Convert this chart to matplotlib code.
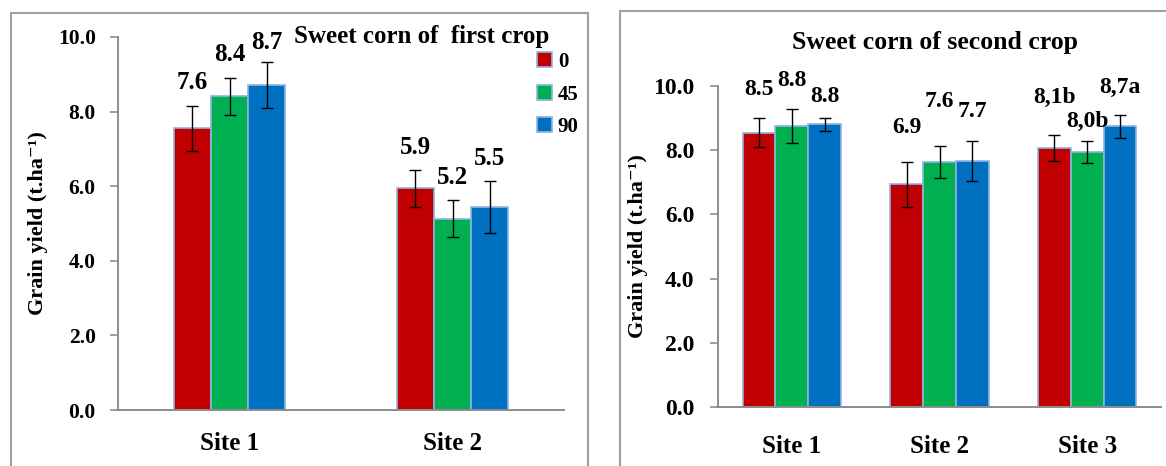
import numpy as np
import matplotlib
matplotlib.use('Agg')
import matplotlib.pyplot as plt
from matplotlib.patches import Rectangle

plt.rcParams['font.family'] = ['Liberation Serif', 'DejaVu Serif']
plt.rcParams['font.weight'] = 'bold'

# datos
rates = ['0', '45', '90']
colors = ['#C00000', '#00B050', '#0070C0']

sites_first = ['Site 1', 'Site 2']
first_0 = [7.55, 5.94]
first_45 = [8.41, 5.13]
first_90 = [8.71, 5.44]
first_err_0 = [0.60, 0.50]
first_err_45 = [0.49, 0.50]
first_err_90 = [0.62, 0.70]
first_lab_0 = ['7.6', '5.9']
first_lab_45 = ['8.4', '5.2']
first_lab_90 = ['8.7', '5.5']

sites_second = ['Site 1', 'Site 2', 'Site 3']
second_0 = [8.55, 6.94, 8.06]
second_45 = [8.75, 7.62, 7.95]
second_90 = [8.81, 7.66, 8.74]
second_err_0 = [0.45, 0.70, 0.40]
second_err_45 = [0.54, 0.50, 0.34]
second_err_90 = [0.20, 0.63, 0.37]
second_lab_0 = ['8.5', '6.9', '8,1b']
second_lab_45 = ['8.8', '7.6', '8,0b']
second_lab_90 = ['8.8', '7.7', '8,7a']

# altura de las etiquetas (posicion, no datos)
first_laby = [[8.79, 7.04], [9.52, 6.24], [9.84, 6.75]]
second_laby = [[9.88, 8.72, 9.63], [10.16, 9.53, 8.91], [9.66, 9.22, 9.97]]

W, H = 1166, 466
fig = plt.figure(figsize=(W / 100, H / 100), dpi=100)

edge_blue = '#8DB4E2'
spine_gray = '#8C8C8C'


def draw_panel(ax, sites, series, errs, labels, laby, width, tick_size,
               tick_pad, site_pad, lab_size):
    x = np.arange(len(sites))
    for i, (vals, err, lab, ly) in enumerate(zip(series, errs, labels, laby)):
        pos = x + (i - 1) * width
        ax.bar(pos, vals, width, color=colors[i], edgecolor=edge_blue,
               linewidth=1.2, label=rates[i], zorder=2)
        ax.errorbar(pos, vals, yerr=err, fmt='none', ecolor='black',
                    elinewidth=1.0, capsize=4.5, capthick=1.0, zorder=3)
        for px, t, yy in zip(pos, lab, ly):
            ax.text(px, yy, t, ha='center', va='center', fontsize=lab_size,
                    fontweight='bold')
    ax.set_xlim(-0.5, len(sites) - 0.5)
    ax.set_ylim(0, 10)
    ax.set_yticks([0, 2, 4, 6, 8, 10])
    ax.set_yticklabels(['%.1f' % v for v in [0, 2, 4, 6, 8, 10]])
    ax.set_xticks(x)
    ax.set_xticklabels(sites, fontsize=18, fontweight='bold')
    ax.tick_params(axis='x', length=0, pad=site_pad)
    ax.tick_params(axis='y', length=6, width=1.2, color=spine_gray,
                   labelsize=tick_size, pad=tick_pad)
    for s in ['top', 'right']:
        ax.spines[s].set_visible(False)
    for s in ['left', 'bottom']:
        ax.spines[s].set_color(spine_gray)
        ax.spines[s].set_linewidth(1.4)
    ax.set_ylabel('Grain yield (t.ha⁻¹)', fontsize=16, fontweight='bold')
    ax.yaxis.set_label_coords(-0.157, 0.5)


ax1 = fig.add_axes([118 / W, 1 - 410 / H, 446 / W, 373 / H])
draw_panel(ax1, sites_first, [first_0, first_45, first_90],
           [first_err_0, first_err_45, first_err_90],
           [first_lab_0, first_lab_45, first_lab_90], first_laby,
           1 / 6, 15.5, 10, 16, 18)

ax2 = fig.add_axes([718 / W, 1 - 407 / H, 443 / W, 321 / H])
draw_panel(ax2, sites_second, [second_0, second_45, second_90],
           [second_err_0, second_err_45, second_err_90],
           [second_lab_0, second_lab_45, second_lab_90], second_laby,
           0.222, 17, 11, 20, 17)

fig.text(422 / W, 1 - 36 / H, 'Sweet corn of  first crop', ha='center',
         va='center', fontsize=18, fontweight='bold')
fig.text(935 / W, 1 - 42 / H, 'Sweet corn of second crop', ha='center',
         va='center', fontsize=18.5, fontweight='bold')

ax1.legend(loc='upper left', bbox_to_anchor=(537 / W, 1 - 52 / H),
           bbox_transform=fig.transFigure, frameon=False, fontsize=15,
           handlelength=0.7, handleheight=0.7, handletextpad=0.3,
           labelspacing=0.6, borderpad=0, borderaxespad=0)

# marcos de los paneles
fig.add_artist(Rectangle((11 / W, -0.1), (588 - 11) / W, 1.1 - 13 / H,
                         transform=fig.transFigure, fill=False,
                         edgecolor='#A0A0A0', linewidth=1.5))
fig.add_artist(Rectangle((620 / W, -0.1), 0.5, 1.1 - 11 / H,
                         transform=fig.transFigure, fill=False,
                         edgecolor='#A0A0A0', linewidth=1.5))

fig.savefig('out.png', dpi=100)
